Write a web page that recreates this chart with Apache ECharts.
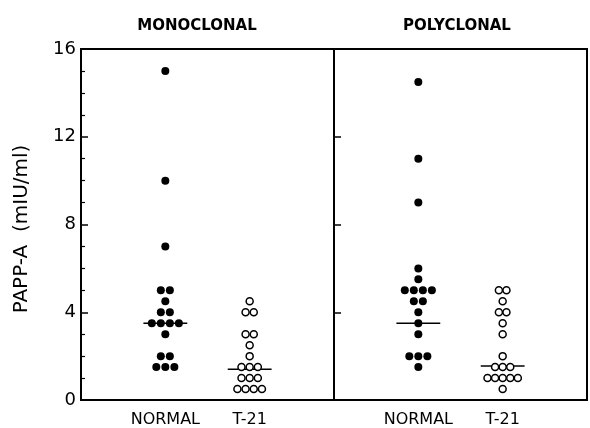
<!DOCTYPE html>
<html>
<head>
<meta charset="utf-8">
<script src="https://cdn.jsdelivr.net/npm/echarts@6/dist/echarts.min.js"></script>
<style>html,body{margin:0;padding:0;background:#fff}#c{width:590px;height:428px}</style>
</head>
<body>
<div id="c"></div>
<script>
// ---- data ----
const panels = ['MONOCLONAL', 'POLYCLONAL'];
const groups = ['NORMAL', 'T-21'];
const yTicks = [0, 4, 8, 12, 16];
const monoNormal = [15, 10, 7, 5, 5, 4.5, 4, 4, 3.5, 3.5, 3.5, 3.5, 3, 2, 2, 1.5, 1.5, 1.5];
const monoT21 = [4.5, 4, 4, 3, 3, 2.5, 2, 1.5, 1.5, 1.5, 1, 1, 1, 0.5, 0.5, 0.5, 0.5];
const polyNormal = [14.5, 11, 9, 6, 5.5, 5, 5, 5, 5, 4.5, 4.5, 4, 3.5, 3, 2, 2, 2, 1.5];
const polyT21 = [5, 5, 4.5, 4, 4, 3.5, 3, 2, 1.5, 1.5, 1.5, 1, 1, 1, 1, 1, 0.5];
const monoMedians = [3.5, 1.4];
const polyMedians = [3.5, 1.55];
const yTitle = 'PAPP-A  (mIU/ml)';

// ---- layout helpers ----
function swarm(values, center, step) {
  const counts = {}, seen = {};
  values.forEach(v => { counts[v] = (counts[v] || 0) + 1; });
  return values.map(v => {
    const i = seen[v] || 0; seen[v] = i + 1;
    return [center + (i - (counts[v] - 1) / 2) * step, v];
  });
}
const FONT = '"DejaVu Sans", sans-serif';
const dotFilled = (data, gi) => ({
  type: 'scatter', xAxisIndex: gi, yAxisIndex: gi, data: data,
  symbol: 'circle', symbolSize: 8, itemStyle: { color: '#000', opacity: 1 }, silent: true, z: 3
});
const dotOpen = (data, gi) => ({
  type: 'scatter', xAxisIndex: gi, yAxisIndex: gi, data: data,
  symbol: 'circle', symbolSize: 7, itemStyle: { color: '#fff', borderColor: '#000', borderWidth: 1.5, opacity: 1 }, silent: true, z: 4
});
const medLine = (center, m, gi) => ({
  type: 'line', xAxisIndex: gi, yAxisIndex: gi, data: [[center - 0.26, m], [center + 0.26, m]],
  symbol: 'none', lineStyle: { color: '#000', width: 1.5 }, silent: true, z: 2
});

const chart = echarts.init(document.getElementById('c'), null, { renderer: 'canvas' });
const gridBase = { top: 49, height: 351, show: true, borderColor: '#000', borderWidth: 2, backgroundColor: 'transparent' };
const xAx = gi => ({
  gridIndex: gi, type: 'value', min: 0, max: 3, interval: 1,
  axisLine: { show: true, lineStyle: { color: '#000', width: 2 } },
  axisTick: { show: false }, splitLine: { show: false },
  axisLabel: { color: '#000', fontSize: 16, fontFamily: FONT, margin: 12,
    formatter: v => (v >= 1 && v <= groups.length) ? groups[v - 1] : '' }
});
const yAx = (gi, labels) => ({
  gridIndex: gi, type: 'value', min: yTicks[0], max: yTicks[yTicks.length - 1], interval: yTicks[1] - yTicks[0],
  axisLine: { show: true, lineStyle: { color: '#000', width: 2 } },
  axisTick: { show: true, inside: true, length: 7, lineStyle: { color: '#000', width: 1.5 } },
  minorTick: { show: labels, splitNumber: 4, length: 4, lineStyle: { color: '#000', width: 1.2 } },
  splitLine: { show: false },
  axisLabel: { show: labels, color: '#000', fontSize: 18, fontFamily: FONT, margin: 5 }
});

chart.setOption({
  animation: false,
  backgroundColor: '#fff',
  grid: [
    Object.assign({ left: 81, width: 253 }, gridBase),
    Object.assign({ left: 334, width: 255 }, gridBase)
  ],
  xAxis: [xAx(0), xAx(1)],
  yAxis: [yAx(0, true), yAx(1, false)],
  graphic: [
    { type: 'text', x: 197, y: 26, style: { text: panels[0], textAlign: 'center', textVerticalAlign: 'middle', font: 'bold 15px ' + FONT, fill: '#000' } },
    { type: 'text', x: 457, y: 26, style: { text: panels[1], textAlign: 'center', textVerticalAlign: 'middle', font: 'bold 15px ' + FONT, fill: '#000' } },
    { type: 'text', x: 22, y: 229, rotation: Math.PI / 2, style: { text: yTitle, textAlign: 'center', textVerticalAlign: 'middle', font: '20px ' + FONT, fill: '#000' } }
  ],
  series: [
    dotFilled(swarm(monoNormal, 1, 0.107), 0),
    dotOpen(swarm(monoT21, 2, 0.097), 0),
    medLine(1, monoMedians[0], 0),
    medLine(2, monoMedians[1], 0),
    dotFilled(swarm(polyNormal, 1, 0.107), 1),
    dotOpen(swarm(polyT21, 2, 0.09), 1),
    medLine(1, polyMedians[0], 1),
    medLine(2, polyMedians[1], 1)
  ]
});
</script>
</body>
</html>
